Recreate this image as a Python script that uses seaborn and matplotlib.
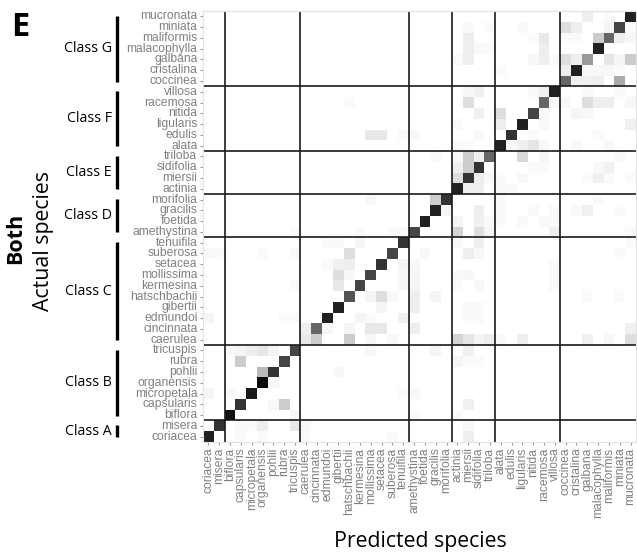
import numpy as np
import pandas as pd
import matplotlib
matplotlib.use("Agg")
import matplotlib.pyplot as plt
import matplotlib.transforms as mtransforms
from matplotlib.colors import LinearSegmentedColormap
import seaborn as sns

species = ["coriacea", "misera",
           "biflora", "capsularis", "micropetala", "organensis", "pohlii", "rubra", "tricuspis",
           "caerulea", "cincinnata", "edmundoi", "gibertii", "hatschbachii", "kermesina",
           "mollissima", "setacea", "suberosa", "tenuifila",
           "amethystina", "foetida", "gracilis", "morifolia",
           "actinia", "miersii", "sidifolia", "triloba",
           "alata", "edulis", "ligularis", "nitida", "racemosa", "villosa",
           "coccinea", "cristalina", "galbana", "malacophylla", "maliformis", "miniata", "mucronata"]
classes = ["Class A", "Class B", "Class C", "Class D", "Class E", "Class F", "Class G"]
class_sizes = [2, 7, 10, 4, 4, 6, 7]

# share of correct predictions per species (diagonal)
correct = [0.87, 0.80,
           0.93, 0.80, 0.90, 0.95, 0.80, 0.73, 0.73,
           0.09, 0.60, 0.87, 0.87, 0.67, 0.73, 0.73, 0.80, 0.73, 0.80,
           0.73, 0.87, 0.87, 0.80,
           0.87, 0.80, 0.80, 0.60,
           0.87, 0.80, 0.87, 0.73, 0.60, 0.87,
           0.60, 0.87, 0.40, 0.87, 0.60, 0.73, 0.87]

# (actual, predicted, share) for the misclassifications
confusions = [
    ("coriacea", "miersii", 0.07), ("coriacea", "capsularis", 0.02), ("coriacea", "organensis", 0.02),
    ("coriacea", "caerulea", 0.02), ("coriacea", "suberosa", 0.02),
    ("misera", "organensis", 0.07), ("misera", "tricuspis", 0.09), ("misera", "capsularis", 0.02),
    ("misera", "micropetala", 0.02), ("misera", "caerulea", 0.03), ("misera", "miersii", 0.03),
    ("biflora", "tricuspis", 0.04), ("biflora", "amethystina", 0.02), ("biflora", "actinia", 0.02),
    ("capsularis", "rubra", 0.2), ("capsularis", "pohlii", 0.03), ("capsularis", "miersii", 0.06),
    ("micropetala", "coriacea", 0.04), ("micropetala", "biflora", 0.03), ("micropetala", "tenuifila", 0.02),
    ("micropetala", "amethystina", 0.03),
    ("organensis", "pohlii", 0.03),
    ("pohlii", "organensis", 0.27), ("pohlii", "gibertii", 0.03),
    ("rubra", "capsularis", 0.2), ("rubra", "actinia", 0.04), ("rubra", "miersii", 0.02), ("rubra", "sidifolia", 0.02),
    ("tricuspis", "biflora", 0.03), ("tricuspis", "capsularis", 0.04), ("tricuspis", "micropetala", 0.07),
    ("tricuspis", "organensis", 0.1), ("tricuspis", "pohlii", 0.04), ("tricuspis", "mollissima", 0.03),
    ("tricuspis", "gracilis", 0.04), ("tricuspis", "miersii", 0.06),
    ("caerulea", "cincinnata", 0.2), ("caerulea", "hatschbachii", 0.2), ("caerulea", "mollissima", 0.03),
    ("caerulea", "suberosa", 0.03), ("caerulea", "actinia", 0.17), ("caerulea", "miersii", 0.1),
    ("caerulea", "sidifolia", 0.04), ("caerulea", "triloba", 0.07), ("caerulea", "ligularis", 0.07),
    ("caerulea", "galbana", 0.06), ("caerulea", "maliformis", 0.03), ("caerulea", "mucronata", 0.13),
    ("caerulea", "alata", 0.02),
    ("cincinnata", "caerulea", 0.07), ("cincinnata", "edmundoi", 0.04), ("cincinnata", "hatschbachii", 0.04),
    ("cincinnata", "mollissima", 0.09), ("cincinnata", "setacea", 0.09), ("cincinnata", "amethystina", 0.07),
    ("cincinnata", "mucronata", 0.06),
    ("edmundoi", "coriacea", 0.04), ("edmundoi", "rubra", 0.02), ("edmundoi", "tricuspis", 0.02),
    ("edmundoi", "kermesina", 0.04), ("edmundoi", "mollissima", 0.02), ("edmundoi", "tenuifila", 0.06),
    ("edmundoi", "miersii", 0.02), ("edmundoi", "sidifolia", 0.02),
    ("gibertii", "setacea", 0.04), ("gibertii", "amethystina", 0.07), ("gibertii", "miersii", 0.02),
    ("gibertii", "sidifolia", 0.02),
    ("hatschbachii", "setacea", 0.13), ("hatschbachii", "mollissima", 0.04), ("hatschbachii", "suberosa", 0.03),
    ("hatschbachii", "amethystina", 0.07), ("hatschbachii", "gracilis", 0.04), ("hatschbachii", "galbana", 0.02),
    ("hatschbachii", "miniata", 0.02),
    ("kermesina", "gibertii", 0.09), ("kermesina", "tenuifila", 0.03), ("kermesina", "amethystina", 0.04),
    ("kermesina", "sidifolia", 0.03), ("kermesina", "actinia", 0.02), ("kermesina", "villosa", 0.02),
    ("kermesina", "tricuspis", 0.02),
    ("mollissima", "gibertii", 0.13), ("mollissima", "hatschbachii", 0.03), ("mollissima", "tenuifila", 0.03),
    ("mollissima", "amethystina", 0.04), ("mollissima", "miersii", 0.03), ("mollissima", "actinia", 0.02),
    ("mollissima", "villosa", 0.02),
    ("setacea", "gibertii", 0.06), ("setacea", "hatschbachii", 0.07), ("setacea", "tenuifila", 0.04),
    ("setacea", "amethystina", 0.03), ("setacea", "villosa", 0.02), ("setacea", "edmundoi", 0.02),
    ("suberosa", "hatschbachii", 0.13), ("suberosa", "miersii", 0.07), ("suberosa", "sidifolia", 0.03),
    ("suberosa", "foetida", 0.03), ("suberosa", "coriacea", 0.03), ("suberosa", "misera", 0.02),
    ("suberosa", "organensis", 0.02), ("suberosa", "tricuspis", 0.02), ("suberosa", "miniata", 0.02),
    ("tenuifila", "kermesina", 0.04), ("tenuifila", "sidifolia", 0.07), ("tenuifila", "actinia", 0.03),
    ("tenuifila", "edmundoi", 0.02), ("tenuifila", "gibertii", 0.02), ("tenuifila", "mucronata", 0.02),
    ("amethystina", "actinia", 0.17), ("amethystina", "sidifolia", 0.13), ("amethystina", "tenuifila", 0.03),
    ("amethystina", "kermesina", 0.02), ("amethystina", "suberosa", 0.02), ("amethystina", "triloba", 0.04),
    ("amethystina", "villosa", 0.06), ("amethystina", "tricuspis", 0.02), ("amethystina", "mucronata", 0.02),
    ("foetida", "sidifolia", 0.06), ("foetida", "actinia", 0.04), ("foetida", "triloba", 0.02),
    ("foetida", "alata", 0.02), ("foetida", "ligularis", 0.02), ("foetida", "racemosa", 0.02),
    ("foetida", "villosa", 0.02),
    ("gracilis", "sidifolia", 0.07), ("gracilis", "alata", 0.02), ("gracilis", "nitida", 0.02),
    ("gracilis", "villosa", 0.02), ("gracilis", "cristalina", 0.02), ("gracilis", "galbana", 0.06),
    ("gracilis", "miniata", 0.02), ("gracilis", "morifolia", 0.04),
    ("morifolia", "gracilis", 0.2), ("morifolia", "mollissima", 0.03), ("morifolia", "malacophylla", 0.02),
    ("morifolia", "alata", 0.02),
    ("actinia", "miersii", 0.07), ("actinia", "sidifolia", 0.07), ("actinia", "alata", 0.02),
    ("actinia", "edulis", 0.02),
    ("miersii", "actinia", 0.13), ("miersii", "sidifolia", 0.07), ("miersii", "triloba", 0.03),
    ("miersii", "ligularis", 0.03), ("miersii", "galbana", 0.02), ("miersii", "malacophylla", 0.06),
    ("miersii", "maliformis", 0.02), ("miersii", "mucronata", 0.02), ("miersii", "alata", 0.02),
    ("sidifolia", "miersii", 0.2), ("sidifolia", "actinia", 0.06), ("sidifolia", "racemosa", 0.02),
    ("sidifolia", "malacophylla", 0.03), ("sidifolia", "maliformis", 0.06), ("sidifolia", "nitida", 0.02),
    ("triloba", "miersii", 0.2), ("triloba", "sidifolia", 0.06), ("triloba", "actinia", 0.03),
    ("triloba", "ligularis", 0.15), ("triloba", "racemosa", 0.04), ("triloba", "gracilis", 0.02),
    ("triloba", "miniata", 0.02),
    ("alata", "edulis", 0.03), ("alata", "ligularis", 0.06), ("alata", "nitida", 0.1),
    ("alata", "racemosa", 0.03), ("alata", "actinia", 0.02), ("alata", "miersii", 0.02),
    ("alata", "cristalina", 0.03), ("alata", "maliformis", 0.03),
    ("edulis", "mollissima", 0.09), ("edulis", "setacea", 0.09), ("edulis", "tenuifila", 0.02),
    ("edulis", "amethystina", 0.03), ("edulis", "sidifolia", 0.03), ("edulis", "nitida", 0.02),
    ("edulis", "malacophylla", 0.02),
    ("ligularis", "alata", 0.07), ("ligularis", "actinia", 0.02), ("ligularis", "racemosa", 0.03),
    ("ligularis", "mucronata", 0.06),
    ("nitida", "alata", 0.13), ("nitida", "sidifolia", 0.06), ("nitida", "racemosa", 0.03),
    ("nitida", "cristalina", 0.04), ("nitida", "galbana", 0.03),
    ("racemosa", "miersii", 0.13), ("racemosa", "galbana", 0.13), ("racemosa", "malacophylla", 0.07),
    ("racemosa", "maliformis", 0.07), ("racemosa", "coccinea", 0.03), ("racemosa", "villosa", 0.03),
    ("racemosa", "mucronata", 0.03), ("racemosa", "hatschbachii", 0.02),
    ("villosa", "racemosa", 0.06), ("villosa", "nitida", 0.02), ("villosa", "miersii", 0.03),
    ("villosa", "sidifolia", 0.06), ("villosa", "miniata", 0.02), ("villosa", "galbana", 0.02),
    ("coccinea", "miniata", 0.33), ("coccinea", "cristalina", 0.06), ("coccinea", "galbana", 0.06),
    ("coccinea", "malacophylla", 0.07),
    ("cristalina", "coccinea", 0.07), ("cristalina", "galbana", 0.03), ("cristalina", "malacophylla", 0.03),
    ("cristalina", "maliformis", 0.03), ("cristalina", "miniata", 0.02), ("cristalina", "alata", 0.02),
    ("galbana", "coccinea", 0.13), ("galbana", "cristalina", 0.07), ("galbana", "maliformis", 0.1),
    ("galbana", "miniata", 0.04), ("galbana", "mucronata", 0.2), ("galbana", "miersii", 0.07),
    ("galbana", "actinia", 0.02), ("galbana", "nitida", 0.03), ("galbana", "racemosa", 0.07),
    ("galbana", "villosa", 0.02),
    ("malacophylla", "miersii", 0.07), ("malacophylla", "sidifolia", 0.03), ("malacophylla", "triloba", 0.02),
    ("malacophylla", "racemosa", 0.07),
    ("maliformis", "malacophylla", 0.2), ("maliformis", "miniata", 0.07), ("maliformis", "mucronata", 0.03),
    ("maliformis", "miersii", 0.07), ("maliformis", "racemosa", 0.09), ("maliformis", "nitida", 0.02),
    ("maliformis", "coccinea", 0.02), ("maliformis", "cristalina", 0.02),
    ("miniata", "coccinea", 0.13), ("miniata", "cristalina", 0.07), ("miniata", "maliformis", 0.04),
    ("miniata", "mucronata", 0.02), ("miniata", "miersii", 0.02), ("miniata", "ligularis", 0.02),
    ("miniata", "triloba", 0.02),
    ("mucronata", "galbana", 0.07), ("mucronata", "maliformis", 0.02),
]

# build the confusion matrix
mat = pd.DataFrame(0.0, index=species, columns=species)
for sp, v in zip(species, correct):
    mat.loc[sp, sp] = v
for a, p, v in confusions:
    mat.loc[a, p] = v

plt.rcParams["font.family"] = ["Liberation Sans", "DejaVu Sans"]

fig = plt.figure(figsize=(6.37, 5.58), dpi=100)
ax = fig.add_axes([203 / 637, 1 - 442 / 558, 433 / 637, 431 / 558])

cmap = LinearSegmentedColormap.from_list("bw", ["#ffffff", "#000000"])
sns.heatmap(mat.iloc[::-1], cmap=cmap, vmin=0, vmax=1, cbar=False, ax=ax,
            xticklabels=True, yticklabels=True)

n = len(species)
bounds = np.cumsum(class_sizes)[:-1]
for b in bounds:
    ax.axvline(b, color="#1a1a1a", lw=1.2)
    ax.axhline(n - b, color="#1a1a1a", lw=1.2)

for s in ax.spines.values():
    s.set_visible(True)
    s.set_color("#e2e2e2")
    s.set_linewidth(0.8)

ax.tick_params(length=2.5, width=0.8, color="#9a9a9a", labelsize=8.7,
               labelcolor="#808080", pad=1.5)
plt.setp(ax.get_xticklabels(), rotation=90)
plt.setp(ax.get_yticklabels(), rotation=0)
ax.set_xlabel("")
ax.set_ylabel("")

# class brackets on the left
trans = mtransforms.blended_transform_factory(fig.transFigure, ax.transData)
start = 0
for name, size in zip(classes, class_sizes):
    y0 = n - start - 0.45
    y1 = n - (start + size) + 0.45
    ax.plot([117 / 637, 117 / 637], [y0, y1], color="black", lw=2.4,
            transform=trans, clip_on=False, solid_capstyle="butt")
    ax.text(112 / 637, n - start - size / 2, name, transform=trans, ha="right",
            va="center", fontsize=10.2, family="Open Sans", color="black")
    start += size

fig.text(11 / 637, 1 - 11 / 558, "E", fontsize=23.5, weight="bold",
         family="Open Sans", ha="left", va="top")
fig.text(16 / 637, 1 - 238 / 558, "Both", rotation=90, fontsize=15.5, weight="bold",
         family="Open Sans", ha="center", va="center")
fig.text(44 / 637, 1 - 241 / 558, "Actual species", rotation=90, fontsize=15.3,
         family="Open Sans", ha="center", va="center")
fig.text(420 / 637, 1 - 541 / 558, "Predicted species", fontsize=15.3,
         family="Open Sans", ha="center", va="center")

fig.savefig("out.png", dpi=100)
